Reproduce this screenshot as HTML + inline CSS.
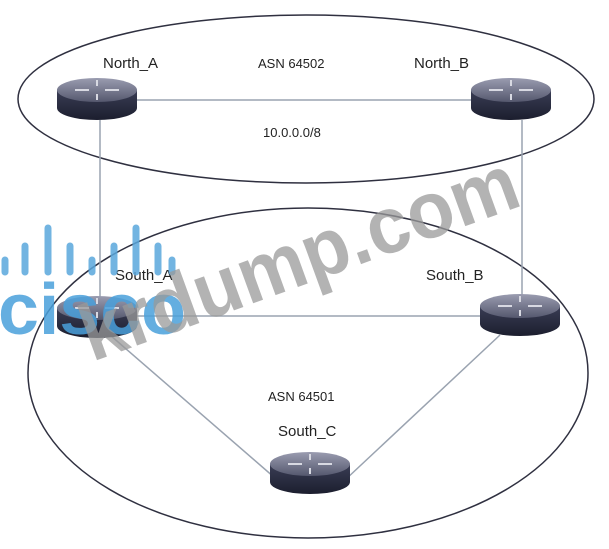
<!DOCTYPE html>
<html><head><meta charset="utf-8"><style>
html,body{margin:0;padding:0;background:#fff;width:609px;height:549px;overflow:hidden}
svg{display:block}
text{font-family:"Liberation Sans",sans-serif}
</style></head><body>
<svg width="609" height="549" viewBox="0 0 609 549" xmlns="http://www.w3.org/2000/svg">
<defs>
<linearGradient id="body" x1="0" x2="0" y1="0" y2="1">
<stop offset="0" stop-color="#3a3d55"/><stop offset="1" stop-color="#1c1e2e"/>
</linearGradient>
<linearGradient id="top" x1="0" x2="0" y1="0" y2="1">
<stop offset="0" stop-color="#9a9cb0"/><stop offset="1" stop-color="#55586e"/>
</linearGradient>
<g id="r">
<path d="M-40,-8 L-40,10 A40,12 0 0 0 40,10 L40,-8 Z" fill="url(#body)"/>
<ellipse cx="0" cy="-8" rx="40" ry="12" fill="url(#top)"/>
<g stroke="#d8d9e2" stroke-width="2" fill="none">
<path d="M-22,-8 h14 M22,-8 h-14 M0,-18 v6 M0,2 v-6"/>
</g>
</g>
</defs>
<ellipse cx="306" cy="99" rx="288" ry="84" fill="none" stroke="#2f3040" stroke-width="1.5"/>
<ellipse cx="308" cy="373" rx="280" ry="165" fill="none" stroke="#2f3040" stroke-width="1.5"/>
<g stroke="#9aa3b0" stroke-width="1.5">
<line x1="98" y1="100" x2="511" y2="100"/>
<line x1="100" y1="120" x2="100" y2="300"/>
<line x1="522" y1="120" x2="522" y2="298"/>
<line x1="98" y1="316" x2="511" y2="316"/>
<line x1="110" y1="335" x2="275" y2="478"/>
<line x1="500" y1="335" x2="345" y2="480"/>
</g>
<use href="#r" x="97" y="98"/>
<use href="#r" x="511" y="98"/>
<use href="#r" x="97" y="316"/>
<use href="#r" x="520" y="314"/>
<use href="#r" x="310" y="472"/>
<g fill="#222" font-size="15">
<text x="103" y="68">North_A</text>
<text x="258" y="68" font-size="13">ASN 64502</text>
<text x="414" y="68">North_B</text>
<text x="263" y="137" font-size="13">10.0.0.0/8</text>
<text x="115" y="280">South_A</text>
<text x="426" y="280">South_B</text>
<text x="268" y="401" font-size="13">ASN 64501</text>
<text x="278" y="436">South_C</text>
</g>
<g stroke="#5aa7dc" stroke-width="7" stroke-linecap="round" opacity="0.85">
<line x1="5" y1="260" x2="5" y2="272"/><line x1="25" y1="246" x2="25" y2="272"/>
<line x1="48" y1="228" x2="48" y2="272"/><line x1="70" y1="246" x2="70" y2="272"/>
<line x1="92" y1="260" x2="92" y2="272"/><line x1="114" y1="246" x2="114" y2="272"/>
<line x1="136" y1="228" x2="136" y2="272"/><line x1="158" y1="246" x2="158" y2="272"/>
<line x1="172" y1="260" x2="172" y2="272"/>
</g>
<text x="-2" y="334" font-size="72" font-weight="bold" fill="#4aa0db" opacity="0.85" textLength="188" lengthAdjust="spacingAndGlyphs">cisco</text>
<text x="92" y="362" font-size="80" font-weight="bold" fill="#9a9a9a" opacity="0.75" transform="rotate(-20 92 362)" textLength="460" lengthAdjust="spacingAndGlyphs">krdump.com</text>
</svg>
</body></html>
